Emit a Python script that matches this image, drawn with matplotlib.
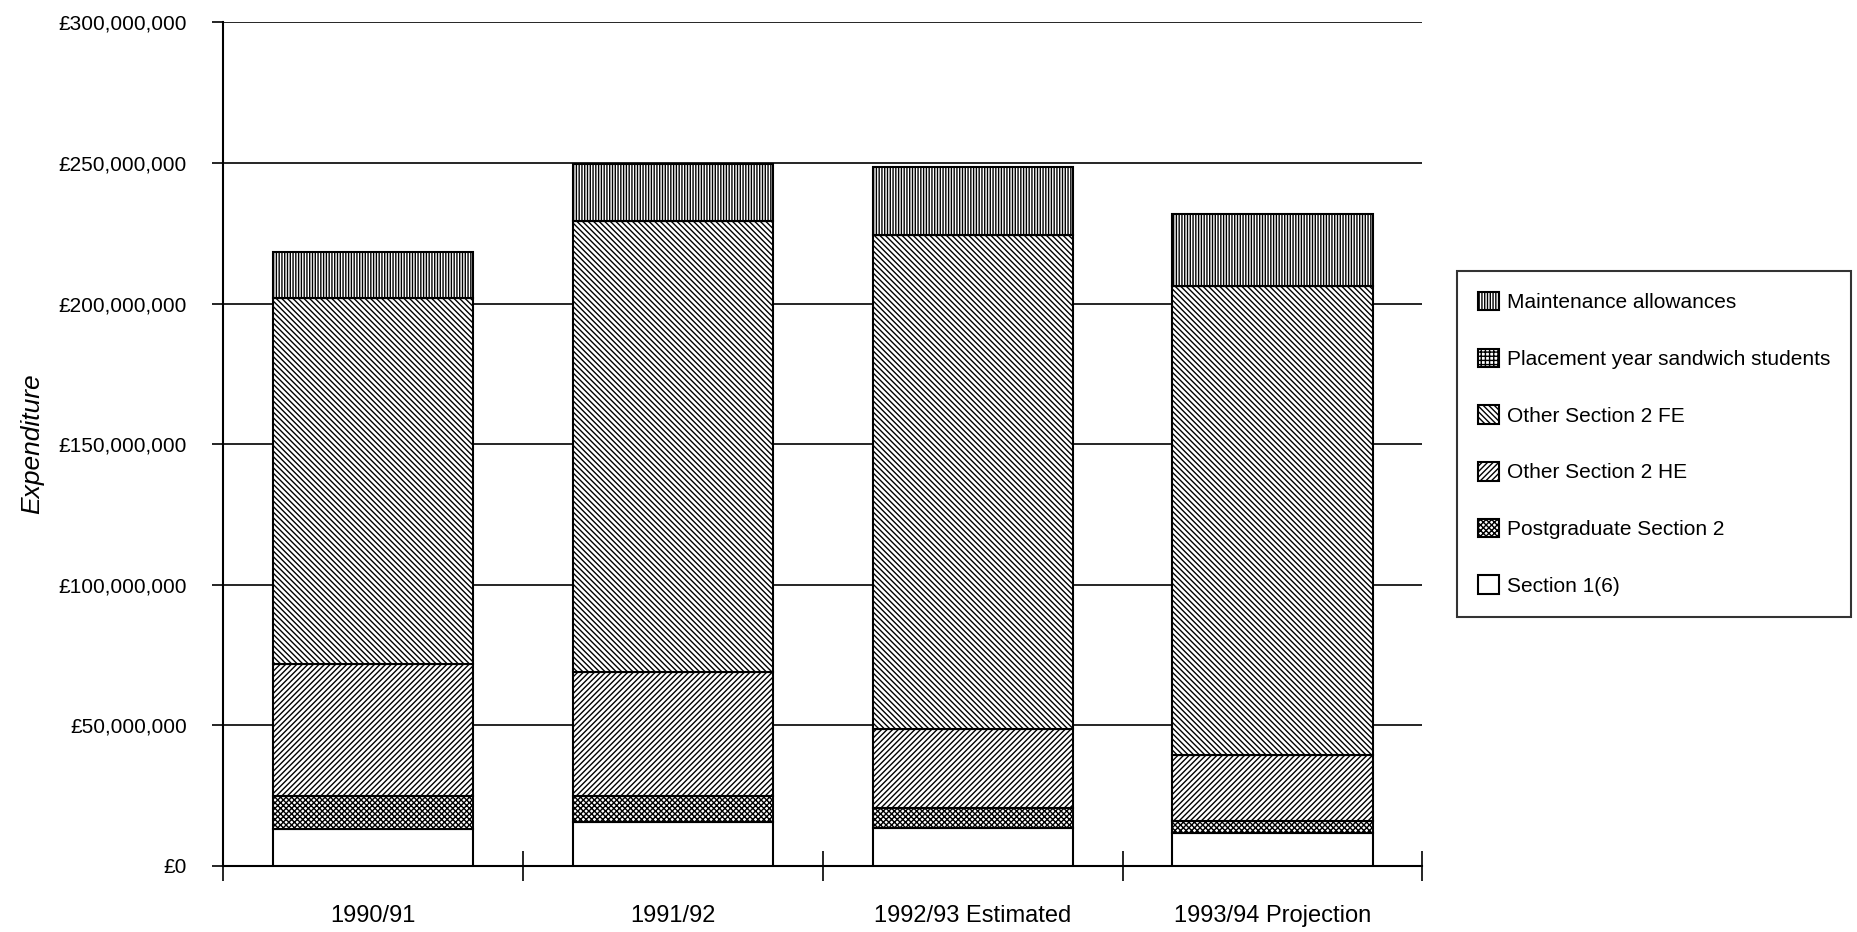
import numpy as np
import matplotlib
matplotlib.use("Agg")
import matplotlib.pyplot as plt
from matplotlib.ticker import FuncFormatter

plt.rcParams['font.family'] = ['Liberation Sans', 'DejaVu Sans']
plt.rcParams['hatch.linewidth'] = 1.0

# data (GBP millions)
years = ['1990/91', '1991/92', '1992/93 Estimated', '1993/94 Projection']
section1 = [13.1, 15.5, 13.4, 11.6]
postgrad = [11.9, 9.5, 7.3, 4.5]
other_he = [46.8, 43.8, 28.0, 23.3]
other_fe = [130.2, 160.5, 175.6, 167.0]
placement = [0.0, 0.0, 0.0, 0.0]
maintenance = [16.3, 20.2, 24.2, 25.6]

series = [
    ('Section 1(6)', section1, ''),
    ('Postgraduate Section 2', postgrad, 'xxxxxx'),
    ('Other Section 2 HE', other_he, '//////'),
    ('Other Section 2 FE', other_fe, '\\\\\\\\\\\\'),
    ('Placement year sandwich students', placement, '++++'),
    ('Maintenance allowances', maintenance, '||||||'),
]

fig = plt.figure(figsize=(18.57, 9.32), dpi=100)
ax = fig.add_axes([0.12, 0.071, 0.646, 0.905])

x = np.arange(len(years))
bottom = np.zeros(len(years))
handles = []
for name, vals, hatch in series:
    v = np.array(vals) * 1e6
    b = ax.bar(x, v, width=0.667, bottom=bottom, color='white', edgecolor='black',
               linewidth=1.5, hatch=hatch, label=name, zorder=3)
    handles.append(b)
    bottom += v

ax.set_xlim(-0.5, 3.5)
ax.set_ylim(0, 300e6)
ax.set_yticks(np.arange(0, 300e6 + 1, 50e6))
ax.yaxis.set_major_formatter(FuncFormatter(lambda v, p: '£{:,.0f}'.format(v)))
ax.yaxis.grid(True, color='black', linewidth=1.2)
ax.set_axisbelow(True)

ax.set_xticks(x)
ax.set_xticklabels(years, fontsize=17)
ax.set_xticks(np.arange(-0.5, 3.6, 1), minor=True)
ax.tick_params(axis='x', which='major', length=0, pad=28)
ax.tick_params(axis='x', which='minor', direction='inout', length=22, width=1.2)
ax.tick_params(axis='y', direction='out', length=8, width=1.2, labelsize=15, pad=18)

for s in ['top', 'right']:
    ax.spines[s].set_visible(False)
for s in ['left', 'bottom']:
    ax.spines[s].set_linewidth(1.5)

ax.set_ylabel('Expenditure', fontsize=19, style='italic', labelpad=10)

leg = fig.legend(handles[::-1], [s[0] for s in series][::-1],
                 loc='upper left', bbox_to_anchor=(1457 / 1857, 1 - 271 / 932),
                 fontsize=15, frameon=True, fancybox=False, edgecolor='black',
                 handlelength=1.0, handleheight=1.0, handletextpad=0.4,
                 labelspacing=1.74, borderpad=1.0, borderaxespad=0)
leg.get_frame().set_linewidth(1.5)

fig.savefig('out.png', dpi=100)
